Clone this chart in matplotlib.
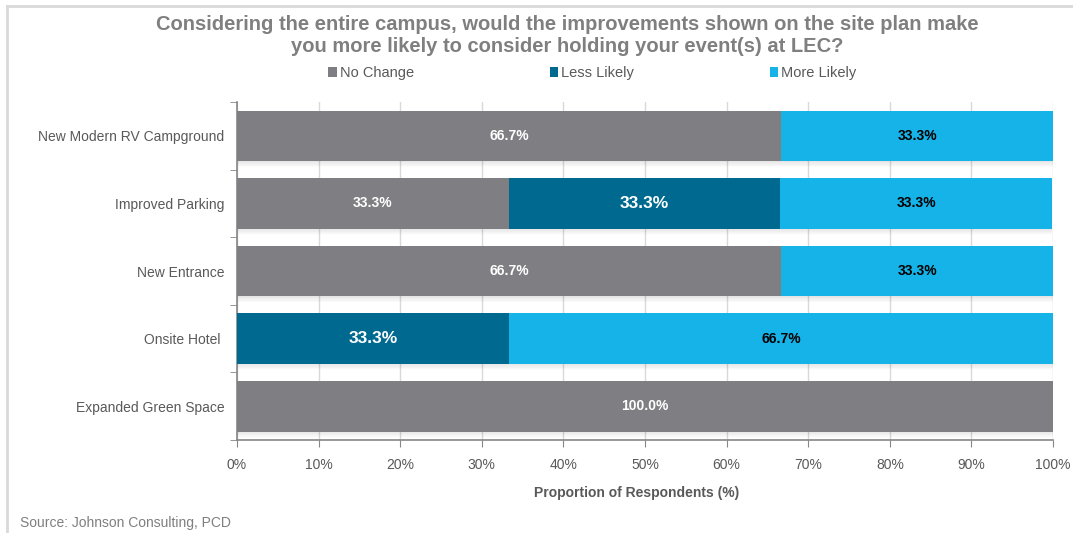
import numpy as np
import matplotlib.pyplot as plt
from matplotlib.patches import Patch
from matplotlib.lines import Line2D

# Survey results, share of respondents per improvement
categories = ["New Modern RV Campground", "Improved Parking", "New Entrance",
              "Onsite Hotel ", "Expanded Green Space"]
series = ["No Change", "Less Likely", "More Likely"]
no_change = [66.7, 33.3, 66.7, 0.0, 100.0]
less_likely = [0.0, 33.3, 0.0, 33.3, 0.0]
more_likely = [33.3, 33.3, 33.3, 66.7, 0.0]
x_ticks = [0, 10, 20, 30, 40, 50, 60, 70, 80, 90, 100]

colors = ["#7f7e83", "#006990", "#15b3e8"]
label_colors = ["white", "white", "black"]
label_sizes = [10, 12.5, 10]
grey_text = "#595959"

plt.rcParams["font.family"] = ["Liberation Sans", "DejaVu Sans"]

fig = plt.figure(figsize=(10.73, 5.33), dpi=100)
ax = fig.add_axes([0.2209, 0.1745, 0.7605, 0.634])

y = np.arange(len(categories))
values = [no_change, less_likely, more_likely]
h = 0.75

# soft drop shadow under each bar
totals = np.sum(values, axis=0)
for k in range(8):
    ax.barh(y + h / 2 + k * 0.012, totals, height=0.012, left=0,
            color="black", alpha=0.10 * (1 - k / 8), linewidth=0, zorder=2)

left = np.zeros(len(categories))
for vals, col, tcol, tsize in zip(values, colors, label_colors, label_sizes):
    vals = np.array(vals)
    bars = ax.barh(y, vals, height=h, left=left, color=col, linewidth=0, zorder=3)
    for b, v in zip(bars, vals):
        if v > 0:
            ax.text(b.get_x() + b.get_width() / 2, b.get_y() + b.get_height() / 2,
                    f"{v:.1f}%", ha="center", va="center", color=tcol,
                    fontsize=tsize, fontweight="bold", zorder=4)
    left += vals

ax.set_xlim(0, 100)
ax.set_ylim(len(categories) - 0.5, -0.5)
ax.set_xticks(x_ticks)
ax.set_xticklabels([f"{t}%" for t in x_ticks], color=grey_text, fontsize=10)
ax.set_yticks(y)
ax.set_yticklabels(categories, color=grey_text, fontsize=10)
ax.tick_params(axis="y", length=0, pad=9)
ax.tick_params(axis="x", length=5, color="#868686", pad=8, direction="out")

# category separator ticks on the left axis
ax.set_yticks(np.arange(-0.5, len(categories)), minor=True)
ax.tick_params(axis="y", which="minor", length=5, color="#868686")

ax.grid(axis="x", color="#d9d9d9", linewidth=1, zorder=0)
ax.set_axisbelow(True)
for s in ["top", "right"]:
    ax.spines[s].set_visible(False)
for s in ["left", "bottom"]:
    ax.spines[s].set_color("#868686")
    ax.spines[s].set_linewidth(1.2)

ax.set_xlabel("Proportion of Respondents (%)", color=grey_text, fontsize=10,
              fontweight="bold")
ax.xaxis.set_label_coords(0.49, -0.135)

fig.text(0.529, 0.934, "Considering the entire campus, would the improvements shown on the site plan make\n"
         "you more likely to consider holding your event(s) at LEC?",
         ha="center", va="center", fontsize=14.5, fontweight="bold", color="#7f7f7f",
         linespacing=1.2)

handles = [Patch(facecolor=c, edgecolor="none") for c in colors]
fig.legend(handles, series, loc="center left", bbox_to_anchor=(0.2936, 0.863),
           ncol=3, frameon=False, handlelength=0.6, handleheight=0.6,
           handletextpad=0.2, columnspacing=9.3,
           prop={"size": 10.5}, labelcolor=grey_text)

fig.text(0.019, 0.012, "Source: Johnson Consulting, PCD", color="#7f7f7f", fontsize=10)

# light frame at top and left edge
fig.add_artist(Line2D([0.0065, 1.0], [0.9887, 0.9887], color="#d9d9d9", linewidth=2))
fig.add_artist(Line2D([0.0065, 0.0065], [0.0, 0.9887], color="#d9d9d9", linewidth=2))

fig.savefig("out.png", dpi=100)
